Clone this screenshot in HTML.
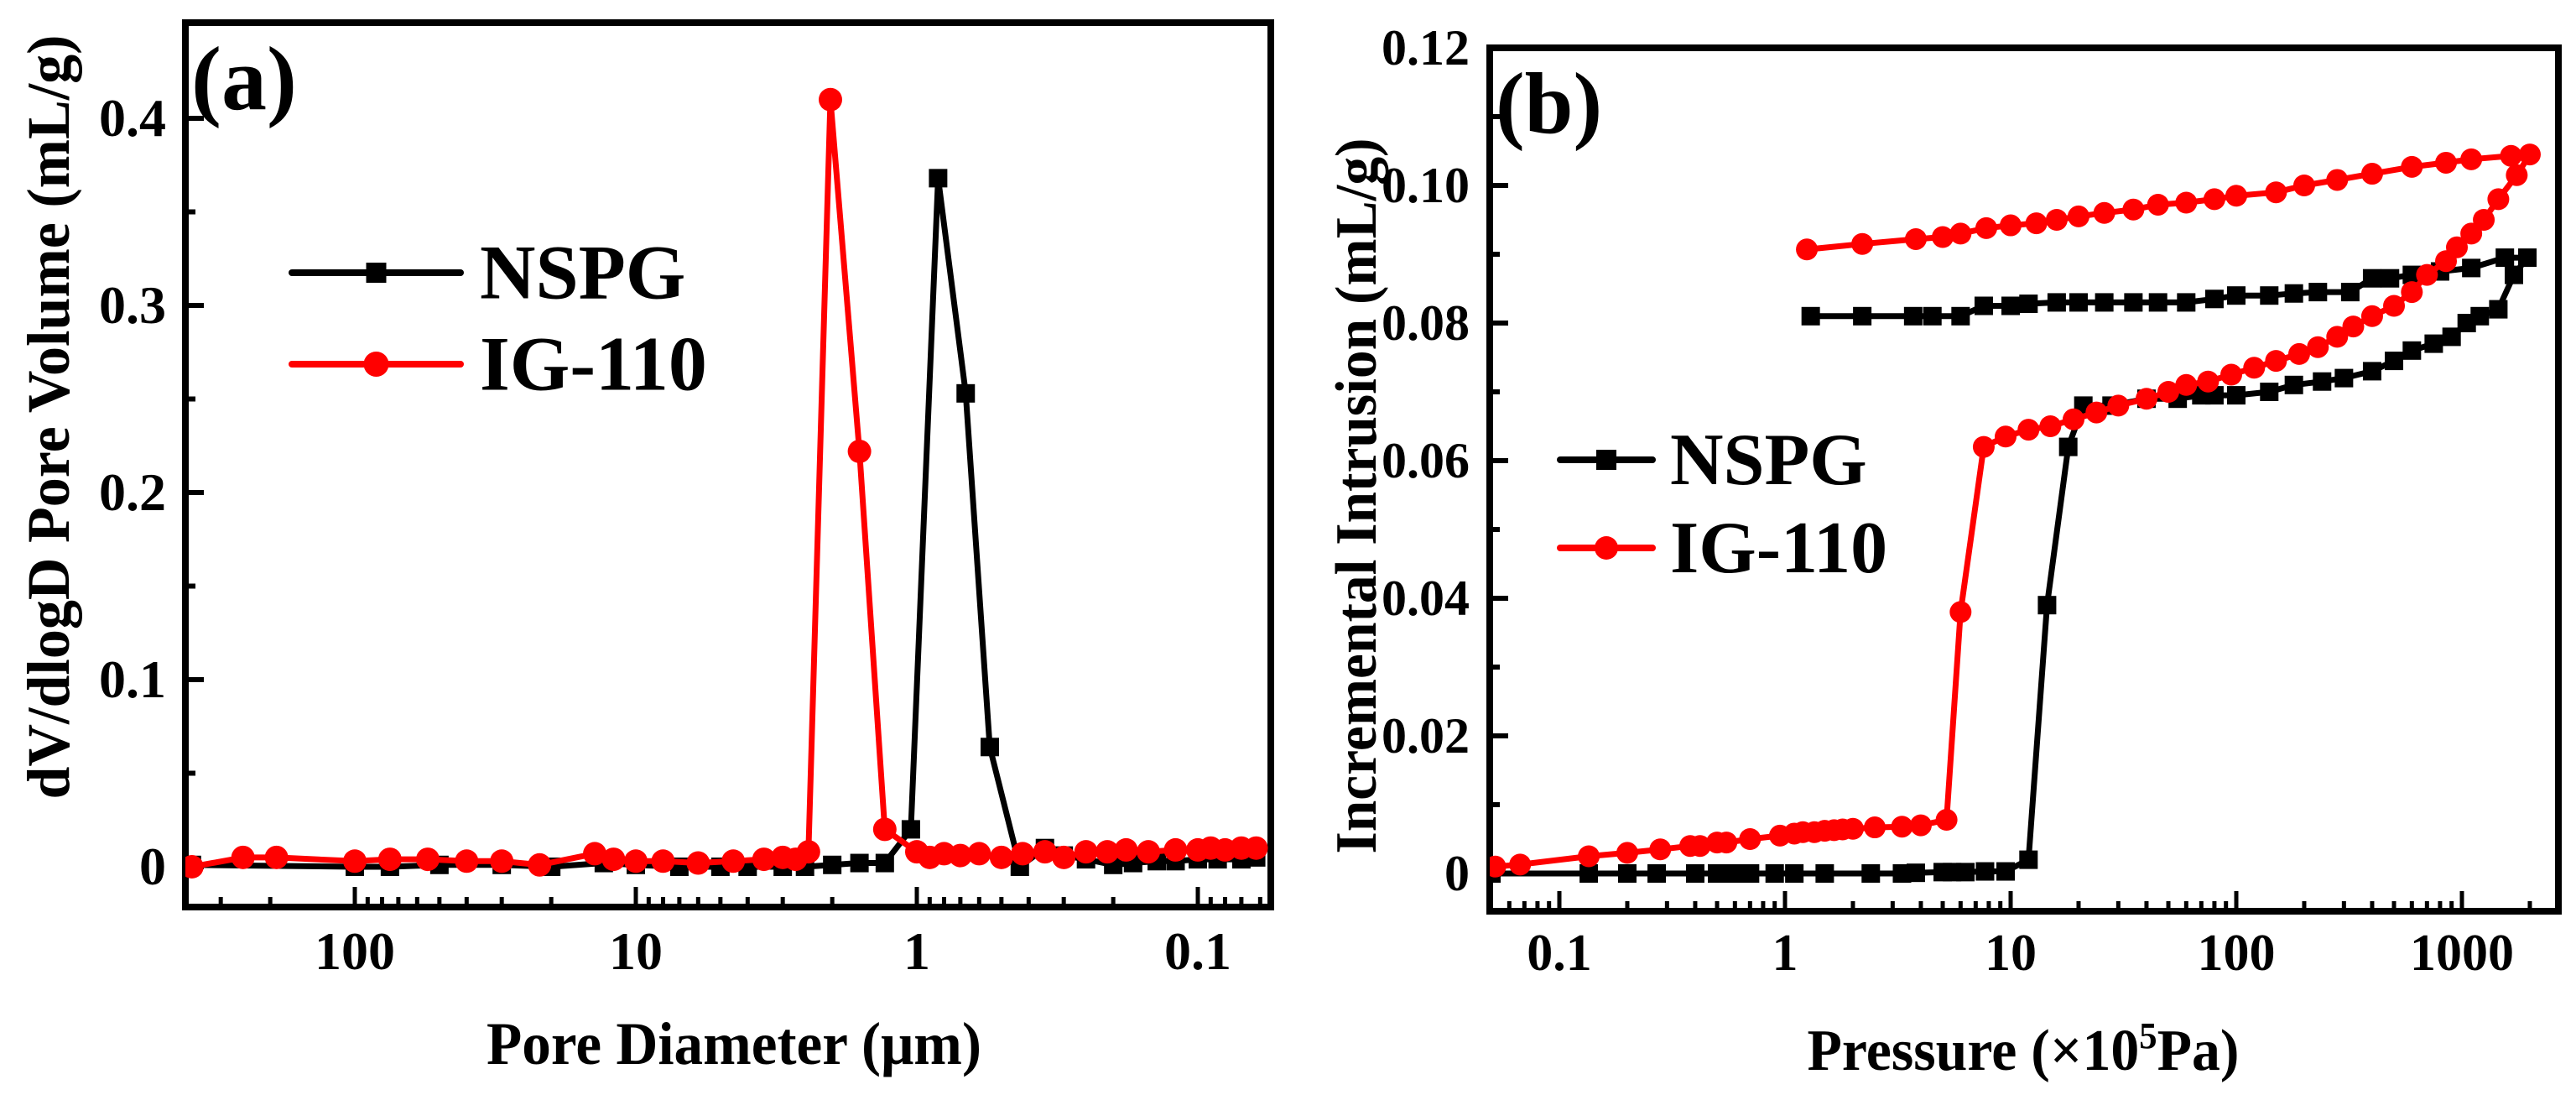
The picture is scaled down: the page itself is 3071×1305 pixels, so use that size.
<!DOCTYPE html>
<html><head><meta charset="utf-8">
<style>
html,body{margin:0;padding:0;background:#fff;}
svg{display:block;font-family:"Liberation Serif",serif;font-weight:bold;}
</style></head>
<body>
<svg id="fig" width="3071" height="1305" viewBox="0 0 3071 1305" xmlns="http://www.w3.org/2000/svg">
<g id="pa"></g>
<g id="pb"></g>
</svg>
<script>
// ---- Panel (a) data ----
const aNspgX = [380,100,75,50,30,20,13,10,7,5,4,3,2.5,2,1.6,1.3,1.05,0.84,0.67,0.55,0.43,0.35,0.3,0.25,0.2,0.17,0.14,0.12,0.1,0.085,0.07,0.062];
const aNspgY = [0.001,0,0,0.001,0.001,0,0.002,0.001,0,0,0,0,0,0.001,0.002,0.002,0.02,0.368,0.253,0.064,0.0,0.01,0.006,0.004,0.001,0.002,0.003,0.003,0.004,0.004,0.004,0.005];
const aIgX = [380,250,190,100,75,55,40,30,22,14,12,10,8,6,4.5,3.5,3,2.7,2.43,2.03,1.6,1.3,1.0,0.9,0.8,0.7,0.6,0.5,0.42,0.35,0.3,0.25,0.21,0.18,0.15,0.12,0.1,0.09,0.08,0.07,0.062];
const aIgY = [0,0.005,0.005,0.003,0.004,0.004,0.003,0.003,0.001,0.007,0.004,0.003,0.003,0.002,0.003,0.004,0.005,0.004,0.008,0.41,0.222,0.02,0.008,0.005,0.007,0.006,0.007,0.005,0.007,0.008,0.005,0.008,0.008,0.009,0.008,0.009,0.009,0.01,0.009,0.01,0.01];
const aXTicks = [100,10,1,0.1];
const aXTickLabels = ["100","10","1","0.1"];
const aYTicks = [0,0.1,0.2,0.3,0.4];
const aYTickLabels = ["0","0.1","0.2","0.3","0.4"];

// ---- Panel (b) data ----
const bNspgX = [0.05,0.135,0.2,0.27,0.4,0.5,0.6,0.7,0.9,1.1,1.5,2.4,3.3,3.8,5,5.5,6.3,7.7,9.5,12,14.5,18,21,28,40,55,70,80,100,140,180,240,300,400,500,600,750,900,1050,1200,1450,1700,1950,
  1550,1100,800,600,480,400,320,230,180,140,100,80,60,45,35,26,20,16,12,10,7.6,6,4.5,3.7,2.2,1.3];
const bNspgY = [0,0,0,0,0,0,0,0,0,0,0,0,0,0.0001,0.0002,0.0002,0.0002,0.0003,0.0003,0.002,0.039,0.062,0.068,0.068,0.069,0.069,0.0695,0.0695,0.0695,0.070,0.071,0.0715,0.072,0.073,0.0745,0.076,0.077,0.078,0.080,0.081,0.082,0.087,0.0895,
  0.0895,0.088,0.0875,0.087,0.0865,0.0865,0.0845,0.0845,0.0843,0.084,0.084,0.0835,0.083,0.083,0.083,0.083,0.083,0.083,0.0828,0.0825,0.0825,0.081,0.081,0.081,0.081,0.081];
const bIgX = [0.052,0.067,0.135,0.2,0.28,0.38,0.42,0.5,0.55,0.7,0.95,1.1,1.2,1.35,1.5,1.65,1.8,2.0,2.5,3.3,4.0,5.2,6.0,7.6,9.5,12,15,19,24,30,40,50,60,75,95,120,150,190,230,280,330,400,500,600,700,850,950,1100,1250,1450,1750,2000,
  1650,1100,850,600,400,280,200,150,100,80,60,45,35,26,20,16,13,10,7.8,6,5,3.8,2.2,1.25];
const bIgY = [0.001,0.0013,0.0025,0.003,0.0035,0.004,0.004,0.0045,0.0045,0.005,0.0055,0.0058,0.006,0.006,0.0062,0.0063,0.0064,0.0065,0.0067,0.0068,0.007,0.0078,0.038,0.062,0.0635,0.0645,0.065,0.066,0.067,0.068,0.069,0.070,0.071,0.0715,0.0725,0.0735,0.0745,0.0755,0.0765,0.078,0.0795,0.081,0.0825,0.0845,0.087,0.089,0.091,0.093,0.095,0.098,0.1015,0.1045,
  0.1043,0.1038,0.1033,0.1027,0.1017,0.1008,0.100,0.099,0.0985,0.098,0.0975,0.0972,0.0965,0.096,0.0955,0.095,0.0945,0.0942,0.0938,0.093,0.0925,0.0922,0.0915,0.0907];
const bXTicks = [0.1,1,10,100,1000];
const bXTickLabels = ["0.1","1","10","100","1000"];
const bYTicks = [0,0.02,0.04,0.06,0.08,0.10,0.12];
const bYTickLabels = ["0","0.02","0.04","0.06","0.08","0.10","0.12"];

const NS = "http://www.w3.org/2000/svg";
function mk(parent, tag, attrs, text){
  const e = document.createElementNS(NS, tag);
  for (const k in attrs) e.setAttribute(k, attrs[k]);
  if (text !== undefined) e.textContent = text;
  parent.appendChild(e);
  return e;
}

function drawPanel(g, cfg){
  const {L,R,T,B,xPos,yPos} = cfg;
  const cid = cfg.id + "-clip";
  const defs = mk(g,'defs',{});
  const cp = mk(defs,'clipPath',{id:cid});
  mk(cp,'rect',{x:L,y:T,width:R-L,height:B-T});
  for (let d = cfg.decMin; d <= cfg.decMax; d++){
    for (let m = 1; m <= 9; m++){
      const v = m*Math.pow(10,d);
      const x = xPos(v);
      if (x < L+4 || x > R-4) continue;
      const len = m===1 ? 24 : 12;
      const t = mk(g,'line',{x1:x,x2:x,y1:B,y2:B-len,stroke:'#000','stroke-width':5});
      
      
    }
  }
  cfg.yTicks.forEach((v,i)=>{
    const y = yPos(v);
    const t = mk(g,'line',{x1:L,x2:L+22,y1:y,y2:y,stroke:'#000','stroke-width':6});
    
    
    const lb = mk(g,'text',{x:cfg.yLabelX,y:y+cfg.yFont*0.33,'text-anchor':'end','font-size':cfg.yFont},cfg.yTickLabels[i]);
    
    
    if (i < cfg.yTicks.length-1){
      const ym = yPos((v + cfg.yTicks[i+1])/2);
      const mt = mk(g,'line',{x1:L,x2:L+12,y1:ym,y2:ym,stroke:'#000','stroke-width':6});
      
      
    }
  });
  cfg.xTicks.forEach((v,i)=>{
    const lb = mk(g,'text',{x:xPos(v),y:cfg.xLabelY,'text-anchor':'middle','font-size':cfg.xFont},cfg.xTickLabels[i]);
    
    
  });
  const fr = mk(g,'rect',{x:L,y:T,width:R-L,height:B-T,fill:'none',stroke:'#000','stroke-width':8});
  
  
  const sg = mk(g,'g',{'clip-path':'url(#'+cid+')'});
  cfg.series.forEach(s=>{
    const pts = s.x.map((v,i)=>xPos(v).toFixed(1)+','+yPos(s.y[i]).toFixed(1)).join(' ');
    const pl = mk(sg,'polyline',{points:pts,fill:'none',stroke:s.color,'stroke-width':7,'stroke-linejoin':'round'});
    
    
    s.x.forEach((v,i)=>{
      const cx = xPos(v), cy = yPos(s.y[i]);
      let m;
      if (s.marker==='square') m = mk(sg,'rect',{x:cx-s.ms/2,y:cy-s.ms/2,width:s.ms,height:s.ms,fill:s.color});
      else m = mk(sg,'circle',{cx:cx,cy:cy,r:s.ms/2,fill:s.color});
      
      
    });
  });
  cfg.series.forEach((s,i)=>{
    const ly = cfg.legY[i];
    const lg = mk(g,'g',{});
    
    
    mk(lg,'line',{x1:cfg.legX1,x2:cfg.legX2,y1:ly,y2:ly,stroke:s.color,'stroke-width':8,'stroke-linecap':'round'});
    const mx = (cfg.legX1+cfg.legX2)/2;
    if (s.marker==='square') mk(lg,'rect',{x:mx-s.ms/2-1,y:ly-s.ms/2-1,width:s.ms+2,height:s.ms+2,fill:s.color});
    else mk(lg,'circle',{cx:mx,cy:ly,r:s.ms/2+1,fill:s.color});
    mk(lg,'text',{x:cfg.legTextX,y:ly+cfg.legFont*0.33,'font-size':cfg.legFont},s.label);
  });
  const pl = mk(g,'text',{x:cfg.tagX,y:cfg.tagY,'font-size':cfg.tagFont},cfg.tag);
  
  
  const xt = mk(g,'text',{x:cfg.xTitleX,y:cfg.xTitleY,'text-anchor':'middle','font-size':cfg.titleFont,textLength:cfg.xTitleLen,lengthAdjust:'spacingAndGlyphs'});
  
  
  cfg.xTitle(xt);
  const yt = mk(g,'text',{x:0,y:0,'text-anchor':'middle','font-size':cfg.titleFont,textLength:cfg.yTitleLen,lengthAdjust:'spacingAndGlyphs',transform:'translate('+cfg.yTitleX+','+cfg.yTitleY+') rotate(-90)'},cfg.yTitle);
  
  
}

const aL=221,aR=1515,aT=27,aB=1081;
const aX = v => 423 + (2 - Math.log10(v))*335;
const aY = v => 1033 - v*2230;
drawPanel(document.getElementById('pa'),{
  id:'a',L:aL,R:aR,T:aT,B:aB,xPos:aX,yPos:aY,decMin:-2,decMax:2,
  yTicks:aYTicks,yTickLabels:aYTickLabels,xTicks:aXTicks,xTickLabels:aXTickLabels,
  yLabelX:198,yFont:64,xLabelY:1155,xFont:64,
  series:[
    {name:'nspg',label:'NSPG',x:aNspgX,y:aNspgY,color:'#000',marker:'square',ms:22},
    {name:'ig-110',label:'IG-110',x:aIgX,y:aIgY,color:'#ff0000',marker:'circle',ms:28}
  ],
  legX1:348,legX2:549,legY:[325,434],legTextX:572,legFont:92,
  tag:'(a)',tagX:228,tagY:130,tagFont:108,
  xTitleX:875,xTitleY:1268,titleFont:72,xTitleLen:590,
  xTitle:t=>{t.textContent='Pore Diameter (μm)';},
  yTitle:'dV/dlogD Pore Volume (mL/g)',yTitleX:82,yTitleY:497,yTitleLen:911
});

const bL=1776,bR=3050,bT=57,bB=1086;
const bX = v => 1859 + (Math.log10(v)+1)*269;
const bY = v => 1041 - v*8200;
drawPanel(document.getElementById('pb'),{
  id:'b',L:bL,R:bR,T:bT,B:bB,xPos:bX,yPos:bY,decMin:-2,decMax:3,
  yTicks:bYTicks,yTickLabels:bYTickLabels,xTicks:bXTicks,xTickLabels:bXTickLabels,
  yLabelX:1752,yFont:60,xLabelY:1156,xFont:62,
  series:[
    {name:'nspg',label:'NSPG',x:bNspgX,y:bNspgY,color:'#000',marker:'square',ms:22},
    {name:'ig-110',label:'IG-110',x:bIgX,y:bIgY,color:'#ff0000',marker:'circle',ms:26}
  ],
  legX1:1860,legX2:1970,legY:[548,653],legTextX:1991,legFont:88,
  tag:'(b)',tagX:1783,tagY:158,tagFont:104,
  xTitleX:2412,xTitleY:1275,titleFont:70,xTitleLen:515,
  xTitle:t=>{t.appendChild(document.createTextNode('Pressure (×10'));const s=document.createElementNS(NS,'tspan');s.setAttribute('dy','-26');s.setAttribute('font-size','44');s.textContent='5';t.appendChild(s);const s2=document.createElementNS(NS,'tspan');s2.setAttribute('dy','26');s2.textContent='Pa)';t.appendChild(s2);},
  yTitle:'Incremental Intrusion (mL/g)',yTitleX:1640,yTitleY:591,yTitleLen:853
});
</script>
</body></html>
